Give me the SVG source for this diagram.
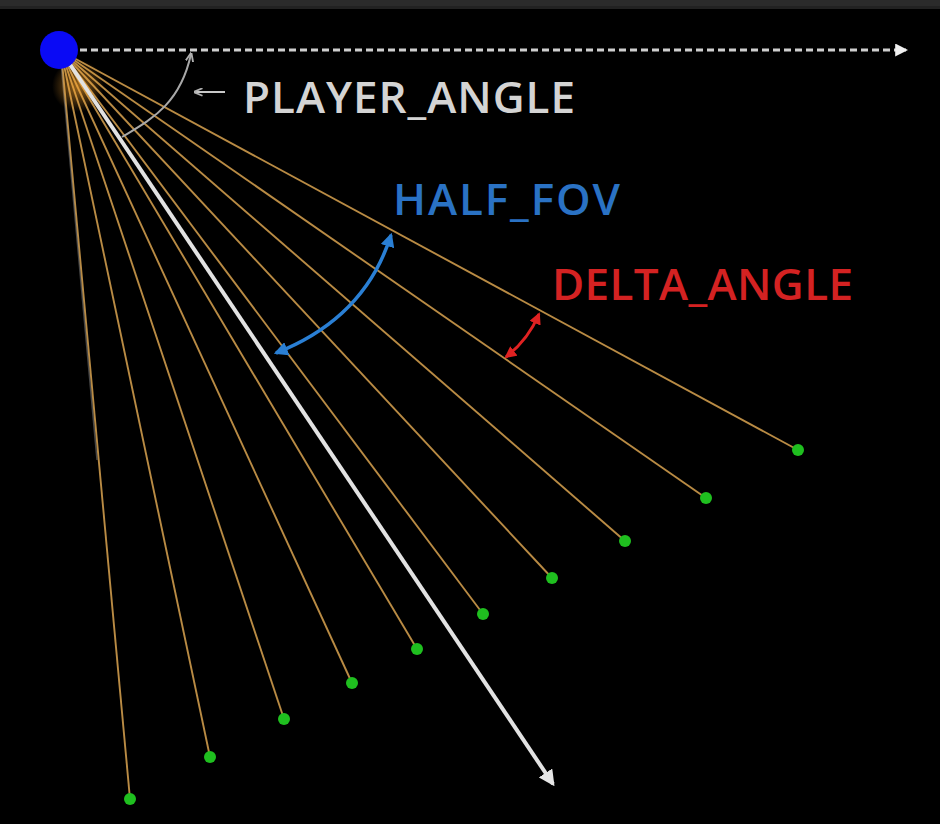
<svg xmlns="http://www.w3.org/2000/svg" width="940" height="824" viewBox="0 0 940 824">
  <style>
    .ray { stroke: #b98b44; stroke-width: 1.9; fill: none; }
    .hit { fill: #1fbf1f; }
    .lbl { font-family: "Open Sans", "Liberation Sans", sans-serif; font-size: 44px; font-weight: 600; }
  </style>
  <defs>
    <marker id="ahWhite" viewBox="0 0 12 12" refX="10" refY="6" markerWidth="16" markerHeight="16" markerUnits="userSpaceOnUse" orient="auto">
      <path d="M0,0 L12,6 L0,12 z" fill="#e6e6e6"/>
    </marker>
    <marker id="ahDot" viewBox="0 0 12 12" refX="10" refY="6" markerWidth="13" markerHeight="13" markerUnits="userSpaceOnUse" orient="auto">
      <path d="M0,0 L12,6 L0,12 z" fill="#f0f0f0"/>
    </marker>
    <marker id="ahGray" viewBox="0 0 12 12" refX="10" refY="6" markerWidth="9" markerHeight="9" markerUnits="userSpaceOnUse" orient="auto">
      <path d="M0,1 L12,6 L0,11" fill="none" stroke="#b0b0b0" stroke-width="2.5"/>
    </marker>
    <marker id="ahBlue" viewBox="0 0 12 12" refX="10" refY="6" markerWidth="14" markerHeight="14" markerUnits="userSpaceOnUse" orient="auto-start-reverse">
      <path d="M0,0 L12,6 L0,12 z" fill="#2a7fd4"/>
    </marker>
    <marker id="ahRed" viewBox="0 0 12 12" refX="10" refY="6" markerWidth="12" markerHeight="12" markerUnits="userSpaceOnUse" orient="auto-start-reverse">
      <path d="M0,0 L12,6 L0,12 z" fill="#e02222"/>
    </marker>
    <radialGradient id="glow" cx="0.5" cy="0.5" r="0.5">
      <stop offset="0" stop-color="#ffa830" stop-opacity="0.6"/>
      <stop offset="1" stop-color="#ffa830" stop-opacity="0"/>
    </radialGradient>
  </defs>

  <rect x="0" y="0" width="940" height="824" fill="#000"/>
  <rect x="0" y="0" width="940" height="6" fill="#2b2b2b"/>
  <rect x="0" y="6" width="940" height="3" fill="#222"/>

  <g id="rays">
    <line class="ray" x1="61" y1="51" x2="798" y2="450"/>
    <line class="ray" x1="61" y1="51" x2="706" y2="498"/>
    <line class="ray" x1="61" y1="51" x2="625" y2="541"/>
    <line class="ray" x1="61" y1="51" x2="552" y2="578"/>
    <line class="ray" x1="61" y1="51" x2="483" y2="614"/>
    <line class="ray" x1="61" y1="51" x2="417" y2="649"/>
    <line class="ray" x1="61" y1="51" x2="352" y2="683"/>
    <line class="ray" x1="61" y1="51" x2="284" y2="719"/>
    <line class="ray" x1="61" y1="51" x2="210" y2="757"/>
    <line class="ray" x1="61" y1="51" x2="130" y2="799"/>
    <line x1="60" y1="51" x2="97" y2="460" stroke="#9a9a9a" stroke-width="1.5" stroke-opacity="0.45"/>
    <circle cx="78" cy="86" r="26" fill="url(#glow)"/>
  </g>

  <g id="connectors">
    <line x1="80" y1="50" x2="906" y2="50" stroke="#cfcfcf" stroke-width="3" stroke-dasharray="7,4" marker-end="url(#ahDot)"/>
    <line x1="61" y1="51" x2="553" y2="784" stroke="#e2e2e2" stroke-width="4" marker-end="url(#ahWhite)"/>
    <path d="M122,137 C150,120 180,105 191,54" stroke="#a8a8a8" stroke-width="2" fill="none" marker-end="url(#ahGray)"/>
    <line x1="225" y1="92" x2="195" y2="92" stroke="#c8c8c8" stroke-width="2" marker-end="url(#ahGray)"/>
    <path d="M276,353 Q365,318 391,235" stroke="#2a7fd4" stroke-width="3.5" fill="none" marker-start="url(#ahBlue)" marker-end="url(#ahBlue)"/>
    <path d="M506,357 Q528,340 539,314" stroke="#e02222" stroke-width="3" fill="none" marker-start="url(#ahRed)" marker-end="url(#ahRed)"/>
  </g>

  <g id="hits">
    <circle class="hit" cx="798" cy="450" r="6"/>
    <circle class="hit" cx="706" cy="498" r="6"/>
    <circle class="hit" cx="625" cy="541" r="6"/>
    <circle class="hit" cx="552" cy="578" r="6"/>
    <circle class="hit" cx="483" cy="614" r="6"/>
    <circle class="hit" cx="417" cy="649" r="6"/>
    <circle class="hit" cx="352" cy="683" r="6"/>
    <circle class="hit" cx="284" cy="719" r="6"/>
    <circle class="hit" cx="210" cy="757" r="6"/>
    <circle class="hit" cx="130" cy="799" r="6"/>
  </g>

  <g id="player">
    <circle cx="59" cy="50" r="19" fill="#0a0af5"/>
  </g>

  <g id="label-player-angle">
    <text class="lbl" x="243" y="113" fill="#d4d4d4" textLength="332">PLAYER_ANGLE</text>
  </g>
  <g id="label-half-fov">
    <text class="lbl" x="393" y="215" fill="#2a72c4" textLength="227">HALF_FOV</text>
  </g>
  <g id="label-delta-angle">
    <text class="lbl" x="552" y="300" fill="#d42222" textLength="301">DELTA_ANGLE</text>
  </g>
</svg>
